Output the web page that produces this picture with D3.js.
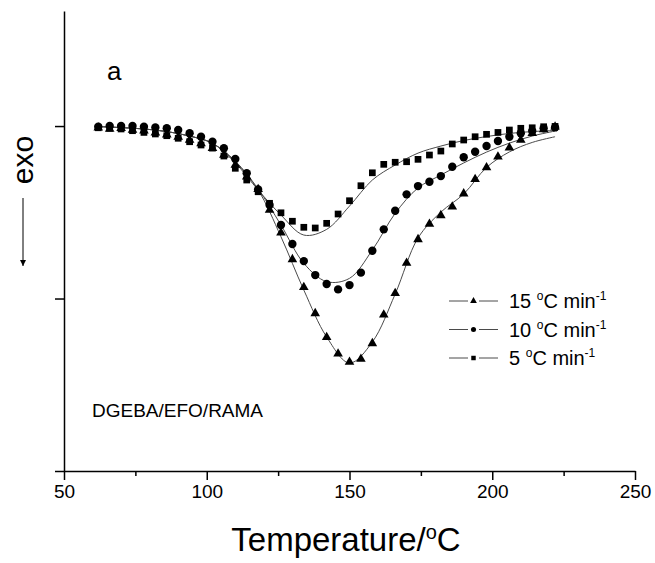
<!DOCTYPE html>
<html>
<head>
<meta charset="utf-8">
<script src="https://cdn.jsdelivr.net/npm/d3@7"></script>
<style>
  body { margin: 0; background: #fff; }
  text { font-family: "Liberation Sans", Arial, sans-serif; fill: #000; }
</style>
</head>
<body>
<div id="canvas"></div>
<script>
"use strict"

/* Data: temperatures (°C) of the measured points */
let temps = [62, 66, 70, 74, 78, 82, 86, 90, 94, 98, 102, 106, 110, 114, 118, 122, 126,
             130, 134, 138, 142, 146, 150, 154, 158, 162, 166, 170, 174, 178, 182, 186,
             190, 194, 198, 202, 206, 210, 214, 218, 222];

/* heat flow (arbitrary units), one value per temperature */
let flow15 = [-0.010, -0.017, -0.012, -0.023, -0.027, -0.039, -0.050, -0.064, -0.081, -0.101,
              -0.128, -0.168, -0.226, -0.294, -0.367, -0.487, -0.619, -0.773, -0.935, -1.086,
              -1.225, -1.320, -1.368, -1.351, -1.260, -1.094, -0.970, -0.794, -0.657, -0.568,
              -0.518, -0.468, -0.392, -0.309, -0.240, -0.178, -0.126, -0.081, -0.042, -0.020, -0.004];
let flow10 = [-0.004, 0.000, 0.000, 0.000, -0.004, -0.008, -0.013, -0.023, -0.042, -0.062,
              -0.091, -0.129, -0.191, -0.274, -0.367, -0.458, -0.574, -0.684, -0.783, -0.864,
              -0.916, -0.947, -0.922, -0.850, -0.723, -0.599, -0.491, -0.396, -0.348, -0.323,
              -0.290, -0.236, -0.181, -0.149, -0.116, -0.087, -0.062, -0.042, -0.029, -0.013, -0.008];
let flow5 = [-0.010, -0.013, -0.017, -0.027, -0.037, -0.046, -0.056, -0.071, -0.091, -0.110,
             -0.128, -0.174, -0.245, -0.313, -0.381, -0.448, -0.503, -0.552, -0.587, -0.591,
             -0.564, -0.510, -0.433, -0.346, -0.271, -0.222, -0.210, -0.207, -0.193, -0.168,
             -0.145, -0.104, -0.081, -0.062, -0.048, -0.037, -0.023, -0.013, -0.010, -0.004, -0.002];

/* fitted curves (thin lines) */
let fitTemps = [62, 70, 78, 86, 94, 102, 110, 118, 126, 134, 142, 150, 158, 166, 174, 182, 190, 198, 206, 214, 222];
let fit15 = [-0.003, -0.009, -0.017, -0.032, -0.058, -0.100, -0.209, -0.371, -0.642, -0.951, -1.223,
             -1.374, -1.252, -0.974, -0.649, -0.499, -0.394, -0.240, -0.150, -0.095, -0.062];
let fit10 = [-0.003, -0.009, -0.017, -0.032, -0.058, -0.100, -0.203, -0.365, -0.574, -0.796, -0.902,
             -0.883, -0.719, -0.506, -0.359, -0.284, -0.214, -0.151, -0.099, -0.058, -0.029];
let fit5 = [-0.003, -0.009, -0.017, -0.032, -0.058, -0.100, -0.214, -0.371, -0.516, -0.632, -0.599,
            -0.464, -0.313, -0.226, -0.157, -0.116, -0.084, -0.061, -0.043, -0.032, -0.026];

let rateLabels = ["15", "10", "5"];
let xTicks = [50, 100, 150, 200, 250];
let xMinorTicks = [75, 125, 175, 225];
let yTicks = [0, -1, -2];

/* Drawing */
let svgWidth = 655;
let svgHeight = 563;

let svg = d3.select("#canvas")
    .append("svg")
    .attr("width", svgWidth)
    .attr("height", svgHeight);

let xScale = d3.scaleLinear()
    .domain([50, 250])
    .range([64, 635]);

let yScale = d3.scaleLinear()
    .domain([-2, 0.667])
    .range([471, 11]);

let series = [
    {label: rateLabels[0], values: flow15, fit: fit15, symbol: d3.symbolTriangle, size: 40},
    {label: rateLabels[1], values: flow10, fit: fit10, symbol: d3.symbolCircle, size: 55},
    {label: rateLabels[2], values: flow5, fit: fit5, symbol: d3.symbolSquare, size: 45}
];

/* fitted lines */
let line = d3.line()
    .x(function (d) { return xScale(d[0]); })
    .y(function (d) { return yScale(d[1]); })
    .curve(d3.curveCatmullRom);

series.forEach(function (s) {
    svg.append("path")
        .datum(fitTemps.map(function (t, i) { return [t, s.fit[i]]; }))
        .attr("d", line)
        .attr("fill", "none")
        .attr("stroke", "#4a4a4a")
        .attr("stroke-width", 1);
});

/* markers */
series.forEach(function (s) {
    svg.append("g")
        .selectAll("path")
        .data(temps.map(function (t, i) { return [t, s.values[i]]; }))
        .join("path")
        .attr("d", d3.symbol().type(s.symbol).size(s.size))
        .attr("transform", function (d) {
            return "translate(" + xScale(d[0]) + "," + yScale(d[1]) + ")";
        })
        .attr("fill", "black");
});

/* axes */
let xAxis = svg.append("g")
    .attr("transform", "translate(0,471)")
    .call(d3.axisBottom(xScale).tickValues(xTicks).tickSize(9).tickSizeOuter(0).tickPadding(5));
svg.append("g")
    .attr("transform", "translate(0,471)")
    .call(d3.axisBottom(xScale).tickValues(xMinorTicks).tickSize(5).tickSizeOuter(0).tickFormat(""))
    .select(".domain").remove();
svg.append("g")
    .attr("transform", "translate(64,0)")
    .call(d3.axisLeft(yScale).tickValues(yTicks).tickSize(9).tickSizeOuter(0).tickFormat(""));

svg.selectAll(".domain, .tick line")
    .attr("stroke", "black")
    .attr("stroke-width", 1.5);
xAxis.selectAll(".tick text")
    .attr("font-size", 19)
    .attr("font-family", "Liberation Sans, Arial, sans-serif");

/* axis titles */
let xTitle = svg.append("text")
    .attr("x", 346)
    .attr("y", 551)
    .attr("text-anchor", "middle")
    .attr("font-size", 33);
xTitle.append("tspan").text("Temperature/");
xTitle.append("tspan").attr("font-size", 20).attr("dy", -12).text("o");
xTitle.append("tspan").attr("dy", 12).text("C");

svg.append("text")
    .attr("transform", "translate(33,160) rotate(-90)")
    .attr("text-anchor", "middle")
    .attr("font-size", 30)
    .text("exo");

svg.append("defs").append("marker")
    .attr("id", "arrow")
    .attr("viewBox", "0 0 10 10")
    .attr("refX", 10)
    .attr("refY", 5)
    .attr("markerWidth", 6)
    .attr("markerHeight", 8)
    .attr("orient", "auto")
    .append("path")
    .attr("d", "M0,0 L10,5 L0,10 z")
    .attr("fill", "black");

svg.append("line")
    .attr("x1", 23).attr("y1", 198)
    .attr("x2", 23).attr("y2", 266)
    .attr("stroke", "black")
    .attr("stroke-width", 1)
    .attr("marker-end", "url(#arrow)");

/* annotations */
svg.append("text")
    .attr("x", 107)
    .attr("y", 80)
    .attr("font-size", 26)
    .text("a");

svg.append("text")
    .attr("x", 92)
    .attr("y", 417)
    .attr("font-size", 19)
    .text("DGEBA/EFO/RAMA");

/* legend */
series.forEach(function (s, i) {
    let ly = 301 + i * 28.5;
    svg.append("line")
        .attr("x1", 449).attr("x2", 468)
        .attr("y1", ly).attr("y2", ly)
        .attr("stroke", "#4a4a4a").attr("stroke-width", 1);
    svg.append("line")
        .attr("x1", 479).attr("x2", 498)
        .attr("y1", ly).attr("y2", ly)
        .attr("stroke", "#4a4a4a").attr("stroke-width", 1);
    svg.append("path")
        .attr("d", d3.symbol().type(s.symbol).size(20))
        .attr("transform", "translate(473.5," + ly + ")")
        .attr("fill", "black");

    let t = svg.append("text")
        .attr("x", 509)
        .attr("y", ly + 7)
        .attr("font-size", 20);
    t.append("tspan").text(s.label + " ");
    t.append("tspan").attr("font-size", 12).attr("dy", -8).text("o");
    t.append("tspan").attr("dy", 8).text("C min");
    t.append("tspan").attr("font-size", 12).attr("dy", -8).text("-1");
});
</script>
</body>
</html>
